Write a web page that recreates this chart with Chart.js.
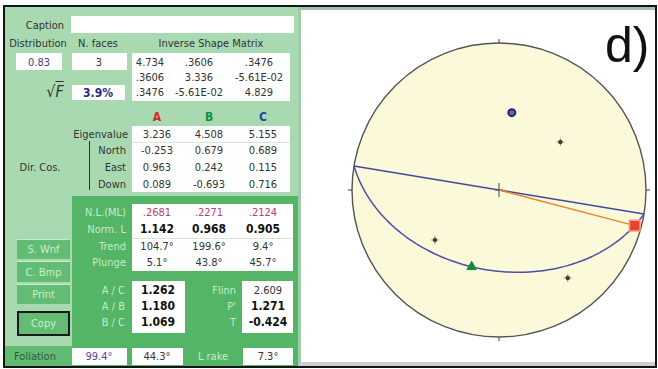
<!DOCTYPE html>
<html>
<head>
<meta charset="utf-8">
<script src="https://cdn.jsdelivr.net/npm/chart.js@4.4.0/dist/chart.umd.min.js"></script>
<style>
	body {
		margin: 0;
		width: 658px;
		height: 369px;
		background: #fff;
		position: relative;
		overflow: hidden;
		font-family: 'Liberation Sans Narrow', 'DejaVu Sans Condensed', 'Liberation Sans', sans-serif;
		font-size: 11px;
		color: #333;
	}
	#frame {
		position: absolute;
		left: 3px;
		top: 5px;
		width: 654px;
		height: 363px;
		box-sizing: border-box;
		border: 2px solid #151515;
	}
	#panel {
		position: absolute;
		left: 5px;
		top: 7px;
		width: 293px;
		height: 359px;
		background: #a9d9b1;
	}
	#netBox {
		position: absolute;
		left: 298px;
		top: 7px;
		width: 357px;
		height: 359px;
		box-sizing: border-box;
		background: #fff;
		border-left: 3px solid #9ccfa6;
		border-top: 3px solid #a7bab3;
		border-bottom: 4px solid #c8d0d8;
	}
	#netChart {
		position: absolute;
		left: 302px;
		top: 10px;
	}
	#tag {
		position: absolute;
		left: 605px;
		top: 20px;
		font-family: 'Liberation Sans', Arial, sans-serif;
		font-size: 50px;
		line-height: 50px;
		color: #111;
	}
	.bx { position: absolute; }
	.tx { position: absolute; white-space: nowrap; line-height: 1; }
	.c { transform: translate(-50%, -50%); }
	.r { transform: translate(-100%, -50%); }
	.dk { color: #c3ecc9; }
	.b { font-weight: bold; font-size: 12px; color: #111; }
	.btn {
		position: absolute;
		box-sizing: border-box;
		background: #63bc73;
		border-top: 1px solid #c4ead0;
		color: #c9efce;
		display: flex;
		align-items: center;
		justify-content: center;
	}
</style>
</head>
<body>
<div id="frame"></div>
<div id="panel"></div>
<div id="netBox"></div>
<canvas id="netChart" width="353" height="352"></canvas>
<div id="tag">d)</div>
<script>
// ellipsoid principal axes
const axisLabels = ['A', 'B', 'C'];
const axisTrend = [104.7, 199.6, 9.4];
const axisPlunge = [5.1, 43.8, 45.7];

// face poles
const faceTrend = [52, 232, 142];
const facePlunge = [46, 44, 25];

// foliation plane (right hand rule)
const foliationStrike = 99.4;
const foliationDip = 44.3;
const lineationRake = 7.3;

const distribution = '0.83';
const faceCount = '3';
const sqrtF = '3.9%';
const shapeMatrix = [
	['4.734', '.3606', '.3476'],
	['.3606', '3.336', '-5.61E-02'],
	['.3476', '-5.61E-02', '4.829'],
];
const eigenvalues = ['3.236', '4.508', '5.155'];
const dirCosNames = ['North', 'East', 'Down'];
const dirCos = [
	['-0.253', '0.679', '0.689'],
	['0.963', '0.242', '0.115'],
	['0.089', '-0.693', '0.716'],
];
const nlMl = ['.2681', '.2271', '.2124'];
const normL = ['1.142', '0.968', '0.905'];
const ratioNames = ['A / C', 'A / B', 'B / C'];
const ratios = ['1.262', '1.180', '1.069'];
const shapeNames = ['Flinn', "P'", 'T'];
const shapeValues = ['2.609', '1.271', '-0.424'];

const axisColors = ['#d42a20', '#12913a', '#2444a2'];

const panel = document.body;

function addBox(x1, y1, x2, y2, color = '#fff') {
	const d = document.createElement('div');
	d.className = 'bx';
	d.style.cssText = `left:${x1}px;top:${y1}px;width:${x2 - x1}px;height:${y2 - y1}px;background:${color}`;
	panel.appendChild(d);
	return d;
}

function addText(text, x, y, align = 'c', cls = '', color) {
	const d = document.createElement('div');
	d.className = `tx ${align} ${cls}`;
	d.style.left = x + 'px';
	d.style.top = y + 'px';
	if (color) d.style.color = color;
	d.innerHTML = text;
	panel.appendChild(d);
	return d;
}

function addButton(text, x1, y1, x2, y2, outlined) {
	const d = document.createElement('div');
	d.className = 'btn';
	d.style.cssText = `left:${x1}px;top:${y1}px;width:${x2 - x1}px;height:${y2 - y1}px`;
	if (outlined) d.style.border = '2px solid #1a1a1a';
	d.textContent = text;
	panel.appendChild(d);
}

function buildPanel() {
	const cols = [157, 209, 263];
	const matCols = [150, 199, 259];

	// dark lower block
	addBox(72, 196, 298, 366, '#54b567');
	addBox(5, 346, 72, 366, '#62bb73');

	addText('Caption', 64, 25, 'r');
	addBox(71, 16, 294, 33);
	addText('Distribution', 38, 43);
	addText('N. faces', 98, 43);
	addText('Inverse Shape Matrix', 211, 43);

	addBox(16, 53, 62, 70);
	addBox(72, 53, 127, 70);
	addBox(132, 53, 290, 101);
	addBox(72, 85, 125, 100);
	addText(distribution, 39, 62, 'c', '', '#4a3c92');
	addText(faceCount, 99, 62);
	shapeMatrix.forEach((row, i) => {
		row.forEach((v, j) => addText(v, matCols[j], 62 + i * 15));
	});
	addText('&radic;<span style="text-decoration:overline;font-style:italic">F</span>', 55, 92, 'c', '', '#333').style.fontSize = '16px';
	addText(sqrtF, 98, 93, 'c', 'b', '#2c2a86');

	axisLabels.forEach((n, j) => addText(n, cols[j], 117, 'c', 'b', axisColors[j]));

	addBox(132, 126, 290, 192);
	addBox(132, 142, 290, 143, '#d8e6da');
	addText('Eigenvalue', 128, 134, 'r');
	eigenvalues.forEach((v, j) => addText(v, cols[j], 134));
	addText('Dir. Cos.', 40, 167);
	addBox(89, 141, 90, 190, '#333');
	dirCosNames.forEach((n, i) => {
		addText(n, 126, 150 + i * 17, 'r');
		dirCos[i].forEach((v, j) => addText(v, cols[j], 150 + i * 17));
	});

	addBox(132, 204, 293, 271);
	addBox(132, 238, 293, 239, '#d8e6da');
	addText('N.L.(ML)', 126, 212, 'r', 'dk');
	nlMl.forEach((v, j) => addText(v, cols[j], 212, 'c', '', '#b2407c'));
	addText('Norm. L', 126, 229, 'r', 'dk');
	normL.forEach((v, j) => addText(v, cols[j], 229, 'c', 'b'));
	addText('Trend', 126, 246, 'r', 'dk');
	axisTrend.forEach((v, j) => addText(v.toFixed(1) + '&deg;', cols[j], 246));
	addText('Plunge', 126, 262, 'r', 'dk');
	axisPlunge.forEach((v, j) => addText(v.toFixed(1) + '&deg;', cols[j], 262));

	addBox(132, 281, 185, 333);
	addBox(242, 281, 293, 333);
	ratioNames.forEach((n, i) => {
		addText(n, 125, 290 + i * 16, 'r', 'dk');
		addText(ratios[i], 158, 290 + i * 16, 'c', 'b');
		addText(shapeNames[i], 236, 290 + i * 16, 'r', 'dk');
		addText(shapeValues[i], 268, 290 + i * 16, 'c', i ? 'b' : '');
	});

	addButton('S. Wnf', 17, 239, 70, 259);
	addButton('C. Bmp', 17, 261, 70, 282);
	addButton('Print', 17, 284, 70, 304);
	addButton('Copy', 17, 311, 70, 336, true);

	addBox(72, 348, 127, 365);
	addBox(132, 348, 183, 365);
	addBox(243, 348, 293, 365);
	addText('Foliation', 35, 356, 'c', '', '#2f5a36');
	addText(foliationStrike.toFixed(1) + '&deg;', 99, 356, 'c', '', '#5a3ea0');
	addText(foliationDip.toFixed(1) + '&deg;', 157, 356);
	addText('L rake', 213, 356, 'c', 'dk');
	addText(lineationRake.toFixed(1) + '&deg;', 268, 356);
}

const rad = (deg) => (deg * Math.PI) / 180;

// lower hemisphere equal-area (Schmidt) projection, north up
function project(trend, plunge) {
	const rho = Math.SQRT2 * Math.sin(rad(90 - plunge) / 2);
	return { x: rho * Math.sin(rad(trend)), y: rho * Math.cos(rad(trend)) };
}

function greatCircle(strike, dip) {
	const s = rad(strike);
	const dd = rad(strike + 90);
	const d = rad(dip);
	const pts = [];
	for (let a = 0; a <= 180; a += 2) {
		const c = Math.cos(rad(a));
		const si = Math.sin(rad(a));
		const n = c * Math.cos(s) + si * Math.cos(d) * Math.cos(dd);
		const e = c * Math.sin(s) + si * Math.cos(d) * Math.sin(dd);
		const down = si * Math.sin(d);
		pts.push(project((Math.atan2(e, n) * 180) / Math.PI, (Math.asin(down) * 180) / Math.PI));
	}
	return pts;
}

// primitive circle, cardinal ticks and centre cross
const netFrame = {
	id: 'netFrame',
	beforeDatasetsDraw(chart) {
		const { ctx, scales: { x, y } } = chart;
		const cx = x.getPixelForValue(0);
		const cy = y.getPixelForValue(0);
		const r = x.getPixelForValue(1) - cx;
		ctx.save();
		ctx.beginPath();
		ctx.arc(cx, cy, r, 0, Math.PI * 2);
		ctx.fillStyle = '#fcf9da';
		ctx.fill();
		ctx.lineWidth = 1.4;
		ctx.strokeStyle = '#545454';
		ctx.stroke();
		ctx.beginPath();
		[[0, -1], [1, 0], [0, 1], [-1, 0]].forEach(([dx, dy]) => {
			ctx.moveTo(cx + dx * r, cy + dy * r);
			ctx.lineTo(cx + dx * (r + 4), cy + dy * (r + 4));
		});
		ctx.moveTo(cx, cy - 7);
		ctx.lineTo(cx, cy + 7);
		ctx.moveTo(cx - 4, cy);
		ctx.lineTo(cx + 4, cy);
		ctx.lineWidth = 1;
		ctx.strokeStyle = '#404040';
		ctx.stroke();
		ctx.restore();
	},
};

const lineSet = (data, color) => ({
	data,
	showLine: true,
	borderColor: color,
	borderWidth: 1.5,
	pointRadius: 0,
	tension: 0,
	clip: false,
});

function loadNet() {
	const axes = axisTrend.map((t, i) => project(t, axisPlunge[i]));
	const faces = faceTrend.map((t, i) => project(t, facePlunge[i]));

	new Chart(document.getElementById('netChart').getContext('2d'), {
		type: 'scatter',
		data: {
			datasets: [
				{ data: [axes[0]], pointStyle: 'rect', pointRadius: 7.5, backgroundColor: '#e5442e', borderColor: '#f29a86', borderWidth: 1.5, clip: false },
				{ data: [axes[1]], pointStyle: 'triangle', pointRadius: 5.5, backgroundColor: '#138c3c', borderColor: '#138c3c', borderWidth: 1, clip: false },
				{ data: [axes[2]], pointStyle: 'circle', pointRadius: 3.5, backgroundColor: '#6464b4', borderColor: '#23236e', borderWidth: 2, clip: false },
				{ data: faces, pointStyle: 'circle', pointRadius: 2.2, backgroundColor: '#3b4430', borderColor: '#3b4430', borderWidth: 0 },
				{ data: faces, pointStyle: 'cross', pointRadius: 4, borderColor: '#9a9c84', borderWidth: 1 },
				lineSet([{ x: 0, y: 0 }, axes[0]], '#e3862e'),
				lineSet([project(foliationStrike + 180, 0), project(foliationStrike, 0)], '#4646a0'),
				lineSet(greatCircle(foliationStrike, foliationDip), '#4e4ea6'),
			],
		},
		options: {
			responsive: false,
			animation: false,
			layout: { padding: { left: 50, right: 9, top: 33, bottom: 25 }, autoPadding: false },
			scales: {
				x: { type: 'linear', min: -1, max: 1, display: false },
				y: { type: 'linear', min: -1, max: 1, display: false },
			},
			plugins: { legend: { display: false }, tooltip: { enabled: false } },
		},
		plugins: [netFrame],
	});
}

buildPanel();
loadNet();
</script>
</body>
</html>
